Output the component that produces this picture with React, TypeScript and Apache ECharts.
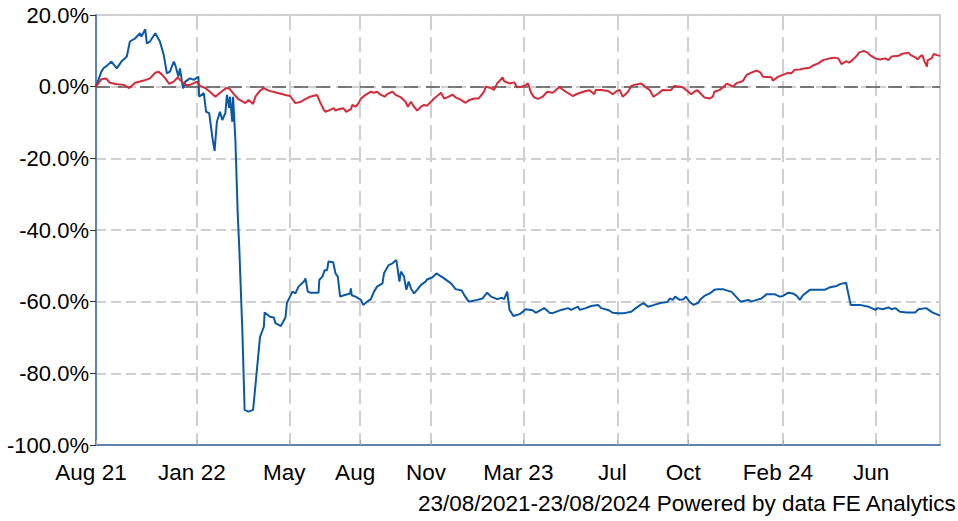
import React, { useEffect, useRef } from "react";
import * as echarts from "echarts";

// Day offsets from 23/08/2021 and cumulative % performance
const startDate = [2021, 7, 23];
const totalDays = 1096;

const fundPoints: [number, number][] = [
  [0, 0], [7, 4.2], [10, 5.2], [14, 5.8], [20, 7], [27, 5.1], [33, 7], [40, 8.4], [44, 12.6],
  [51, 13.5], [57, 14.9], [59, 14], [64, 16], [66, 12.1], [70, 12.6], [77, 14.9], [83, 12.6],
  [88, 8.8], [92, 3.7], [96, 4.2], [101, 7], [103, 6], [107, 2.8], [109, 5.1], [113, -0.5],
  [116, 1.4], [122, 2.3], [127, 1.9], [133, 2.8], [134, -2.8], [140, -1.8], [143, -7],
  [147, -7.4], [151, -14], [154, -17.9], [157, -9.8], [161, -7], [164, -9.3], [168, -7.4],
  [170, -2.3], [173, -6], [174, -2.8], [177, -9.8], [178, -2.8], [181, -14.9], [184, -35.3],
  [186, -44.7], [190, -67.9], [193, -90.2], [198, -90.7], [204, -90.2], [213, -69.8],
  [218, -67], [219, -63], [226, -64.2], [231, -64.4], [233, -66], [240, -66.8], [246, -64.4],
  [248, -60.3], [252, -58.6], [255, -57.2], [259, -57.7], [263, -55.8], [270, -54.4],
  [272, -53.5], [275, -57.2], [278, -57.5], [289, -57.5], [290, -53.9], [294, -53],
  [297, -51.2], [300, -51.2], [302, -48.8], [308, -49], [311, -52.1], [314, -53], [317, -58.6],
  [322, -58.2], [330, -57.7], [331, -56.3], [332, -58.2], [337, -58.6], [344, -59.5],
  [347, -60.9], [352, -60], [357, -59.3], [361, -57.2], [365, -55.8], [372, -54.9],
  [374, -52.1], [380, -49.8], [385, -49.3], [390, -48.4], [391, -49.8], [394, -54.4],
  [396, -51.6], [400, -53], [403, -56.7], [406, -54.4], [409, -56.3], [413, -57.7],
  [417, -56.7], [422, -55.3], [428, -54.4], [430, -53.8], [437, -53.2], [442, -52.1],
  [452, -53.5], [461, -54.9], [467, -56.5], [475, -56.9], [478, -58.1], [484, -60],
  [495, -59.5], [502, -59.1], [508, -57.5], [513, -58.6], [521, -59.3], [527, -58.9],
  [530, -59.3], [534, -57.2], [537, -62.3], [542, -64], [551, -63.4], [556, -62.5],
  [558, -62.1], [567, -62.4], [571, -63.1], [582, -61.8], [589, -63.1], [593, -63.2],
  [604, -62.3], [613, -61.8], [617, -62.3], [626, -61.4], [628, -62.3], [636, -61.8],
  [643, -61.2], [652, -60.9], [656, -61.8], [665, -62.3], [671, -63.1], [678, -63.2],
  [686, -63.2], [695, -62.8], [701, -61.8], [707, -60.9], [711, -60.4], [717, -61.4],
  [725, -60.9], [734, -60.3], [742, -60.1], [745, -59.1], [749, -59.5], [752, -58.6],
  [758, -59.5], [763, -59.3], [766, -58.6], [771, -60.1], [776, -60.9], [782, -60.3],
  [785, -59.3], [790, -58.4], [797, -57.7], [803, -56.7], [808, -56.5], [814, -56.5],
  [821, -57], [825, -57.2], [829, -58.1], [837, -60], [847, -59.5], [851, -60], [858, -59.5],
  [864, -59.1], [871, -57.9], [881, -57.9], [888, -58.6], [892, -58.4], [899, -57.5],
  [905, -57.7], [910, -58.4], [914, -59.5], [918, -58.2], [927, -56.7], [938, -56.7],
  [946, -56.7], [953, -56], [962, -55.6], [966, -55.1], [974, -54.7], [980, -60.9],
  [992, -60.9], [1003, -61.4], [1012, -62.3], [1015, -61.8], [1022, -62.1], [1029, -61.6],
  [1033, -62.1], [1038, -61.8], [1044, -62.8], [1053, -63], [1064, -63], [1068, -62.1],
  [1078, -61.8], [1086, -63], [1096, -63.9],
];

const benchPoints: [number, number][] = [
  [0, 0], [7, 2.1], [13, 2.3], [18, 1.1], [27, 0.7], [36, 0.5], [43, -0.4], [51, 1.1],
  [62, 1.7], [70, 2.3], [77, 3.9], [81, 4.2], [85, 3.5], [90, 2.3], [95, 0.8], [101, 1.4],
  [106, 2.6], [109, 1.9], [116, 0.5], [122, 0.5], [131, 1.4], [135, 0.2], [142, -0.4],
  [148, -1.4], [155, -2.8], [161, -1.7], [169, -0.4], [173, -0.5], [179, -2.1], [185, -3.5],
  [194, -4.6], [198, -3.7], [204, -4.8], [207, -2.8], [213, -1.1], [218, -0.4], [224, -1.1],
  [235, -1.7], [246, -2.3], [252, -2.6], [259, -4.6], [265, -4.3], [270, -3.7], [278, -2.8],
  [287, -2.3], [291, -4.3], [296, -6.5], [298, -7], [302, -6.7], [309, -6], [311, -6.7],
  [315, -6.3], [321, -6], [325, -7], [331, -6.3], [333, -5.1], [337, -5.6], [341, -4.6],
  [344, -3.3], [350, -2.3], [357, -1.4], [361, -1.7], [365, -1.4], [370, -2.3], [375, -2.8],
  [378, -2.1], [385, -1.4], [389, -2.3], [396, -3], [402, -4.2], [405, -5.6], [409, -4.2],
  [412, -5.3], [417, -6.7], [422, -5.6], [426, -5.1], [430, -5.3], [435, -4.2], [439, -3.3],
  [443, -2.6], [448, -1.7], [452, -3.3], [456, -3], [463, -2.2], [467, -3], [474, -3.7],
  [480, -4.5], [485, -3.7], [491, -3.3], [497, -3.3], [504, -1.4], [506, 0], [513, -0.4],
  [517, -0.9], [521, 0.9], [528, 2.6], [530, 1.5], [537, 0.9], [543, 1.2], [547, -0.2],
  [552, 0], [557, 0.3], [561, 0.9], [565, -1.7], [569, -3], [574, -3.4], [580, -2.8],
  [586, -1.4], [593, -1.7], [597, -1], [602, 0], [604, -0.5], [610, -1.4], [619, -2.6],
  [626, -1.9], [636, -1.2], [641, -1], [647, -2.1], [649, -0.9], [656, -0.9], [665, -1.2],
  [671, -2.1], [675, -1.4], [680, -0.9], [684, -2.8], [691, -1.4], [695, 0.2], [699, 0.5],
  [708, 0.9], [714, -0.2], [719, -0.9], [724, -2.8], [730, -1.9], [736, -0.9], [743, -1],
  [747, -0.9], [751, 0.2], [758, 0], [762, -0.2], [768, -1.2], [773, -2.1], [777, -1.4],
  [781, -1], [786, -2.1], [790, -3], [797, -3.3], [801, -2.8], [803, -1.4], [810, -0.9],
  [814, -0.2], [819, 0.8], [823, 0.5], [827, 0], [832, 1], [840, 1.6], [845, 3.3], [851, 3.9],
  [858, 4.5], [863, 3.9], [866, 2.8], [877, 2.6], [879, 1.7], [886, 2.8], [892, 3.3],
  [899, 3.9], [903, 3.7], [907, 4.7], [914, 4.8], [920, 5.1], [927, 5.3], [931, 5.9],
  [938, 6.5], [944, 7.4], [953, 7.9], [959, 8.1], [964, 7.9], [968, 6.3], [974, 7.1],
  [978, 6.7], [982, 7.4], [987, 8.4], [991, 9.5], [997, 10], [1002, 9.5], [1005, 8.8],
  [1012, 7.9], [1018, 7.6], [1025, 7.9], [1029, 7.4], [1033, 8.4], [1042, 8.6], [1046, 9.1],
  [1055, 9.5], [1058, 8.8], [1064, 8.2], [1067, 7.6], [1070, 8.4], [1073, 8.8], [1076, 7],
  [1079, 5.6], [1080, 7.4], [1085, 7.9], [1088, 9.1], [1092, 8.8], [1096, 8.6],
];

const tickDates = [
  "2021-08-23", "2022-01-01", "2022-05-01", "2022-08-01", "2022-11-01",
  "2023-03-01", "2023-07-01", "2023-10-01", "2024-02-01", "2024-06-01",
];
const tickLabels = ["Aug 21", "Jan 22", "May", "Aug", "Nov", "Mar 23", "Jul", "Oct", "Feb 24", "Jun"];

const footerText = "23/08/2021-23/08/2024 Powered by data FE Analytics";

const FONT = "'Liberation Sans', Arial, Helvetica, sans-serif";

export default function App() {
  const ref = useRef<HTMLDivElement>(null);
  useEffect(() => {
    if (!ref.current) return;
    const chart = echarts.init(ref.current, null, { renderer: "svg" });
    const dates: string[] = [];
    for (let i = 0; i <= totalDays; i++) {
      dates.push(new Date(Date.UTC(startDate[0], startDate[1], startDate[2] + i)).toISOString().slice(0, 10));
    }
    const labelMap: Record<string, string> = {};
    tickDates.forEach((d, i) => (labelMap[d] = tickLabels[i]));
    const isTick = (_i: number, v: string) => v in labelMap;

    chart.setOption({
      animation: false,
      grid: {
        left: 96, right: 18, top: 15, bottom: 76,
        show: true, borderColor: "#cfcfcf", borderWidth: 2, backgroundColor: "transparent",
      },
      xAxis: {
        type: "category",
        data: dates,
        boundaryGap: false,
        axisLine: { onZero: false, lineStyle: { color: "#5f82ad", width: 2 } },
        axisTick: { show: true, inside: true, length: 5, interval: isTick, lineStyle: { color: "#aaa" } },
        axisLabel: {
          interval: isTick,
          formatter: (v: string) => labelMap[v] || "",
          color: "#000",
          fontSize: 22.5,
          fontFamily: FONT,
          margin: 16,
          padding: [0, 10, 0, 0],
        },
        splitLine: { show: true, interval: isTick, lineStyle: { color: "#d0d0d0", width: 2, type: [15, 7] } },
      },
      yAxis: {
        type: "value",
        min: -100, max: 20, interval: 20,
        axisLine: { show: true, lineStyle: { color: "#5f82ad", width: 2 } },
        axisTick: { show: true, length: 6, lineStyle: { color: "#333" } },
        axisLabel: {
          formatter: (v: number) => v.toFixed(1) + "%",
          color: "#000", fontSize: 22, fontFamily: FONT, margin: 7,
        },
        splitLine: { show: true, lineStyle: { color: "#d0d0d0", width: 2, type: [10, 5] } },
      },
      series: [
        {
          type: "line",
          name: "Fund",
          data: fundPoints,
          symbol: "none",
          lineStyle: { color: "#0b58a6", width: 2 },
          itemStyle: { color: "#0b58a6" },
          z: 3,
          markLine: {
            silent: true,
            symbol: ["none", "none"],
            label: { show: false },
            lineStyle: { color: "#555", width: 1.5, type: [14, 8] },
            data: [{ yAxis: 0 }],
            z: 2,
          },
        },
        {
          type: "line",
          name: "Benchmark",
          data: benchPoints,
          symbol: "none",
          lineStyle: { color: "#d42a3a", width: 2 },
          itemStyle: { color: "#d42a3a" },
          z: 4,
        },
      ],
      graphic: [
        {
          type: "text",
          right: 1,
          top: 492,
          style: { text: footerText, fill: "#000", font: `22.5px ${FONT}` },
        },
      ],
    });
    return () => chart.dispose();
  }, []);
  return <div ref={ref} style={{ position: "absolute", left: 0, top: 0, width: 958, height: 521 }} />;
}
